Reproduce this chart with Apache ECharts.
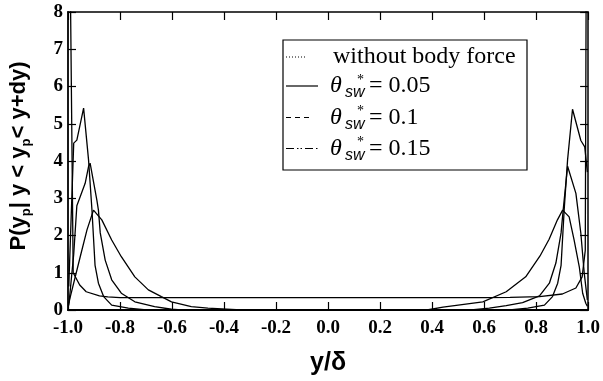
<!DOCTYPE html>
<html><head><meta charset="utf-8">
<script src="https://cdn.jsdelivr.net/npm/echarts@6/dist/echarts.min.js"></script>
<style>html,body{margin:0;padding:0;background:#fff}#c{width:603px;height:381px}</style>
</head><body><div id="c"></div>
<script>
// ---- data ----
const seriesNames = ['without body force', 'theta 0.05', 'theta 0.1', 'theta 0.15'];
const thetaValues = ['0.05', '0.1', '0.15'];

const noForceX = [-0.997, -0.98, -0.955, -0.93, -0.879, -0.847, -0.8, -0.6, -0.4, -0.2, 0, 0.2, 0.4, 0.6, 0.7, 0.813, 0.901, 0.953, 0.977, 0.989, 0.995];
const noForceY = [13, 1.0, 0.67, 0.49, 0.38, 0.35, 0.33, 0.33, 0.33, 0.33, 0.33, 0.33, 0.33, 0.33, 0.34, 0.36, 0.43, 0.59, 0.89, 1.6, 14];

const theta005X = [-0.997, -0.991, -0.953, -0.927, -0.902, -0.870, -0.832, -0.795, -0.743, -0.691, -0.641, -0.602, -0.526, -0.462, -0.335,
                   0.38, 0.442, 0.595, 0.685, 0.76, 0.815, 0.85, 0.882, 0.902, 0.927, 0.946, 0.966, 0.979, 0.991, 0.997];
const theta005Y = [0.18, 0.36, 1.43, 2.15, 2.68, 2.42, 1.88, 1.43, 0.89, 0.54, 0.36, 0.22, 0.09, 0.05, 0,
                   0, 0.08, 0.22, 0.49, 0.89, 1.45, 1.9, 2.42, 2.68, 2.5, 1.88, 1.16, 0.45, 0.18, 0.1];

const theta01X = [-0.997, -0.978, -0.966, -0.934, -0.921, -0.915, -0.889, -0.883, -0.876, -0.857, -0.832, -0.795, -0.743, -0.667, -0.602, -0.564,
                  0.55, 0.62, 0.685, 0.748, 0.813, 0.851, 0.876, 0.896, 0.904, 0.921, 0.953, 0.972, 0.985, 0.997];
const theta01Y = [0.12, 1.5, 2.8, 3.4, 3.85, 3.94, 2.95, 2.68, 2.07, 1.34, 0.81, 0.45, 0.22, 0.09, 0.02, 0,
                  0, 0.05, 0.12, 0.2, 0.38, 0.72, 1.26, 2.07, 2.68, 3.86, 3.13, 2.06, 0.99, 0.27];

const theta015X = [-0.997, -0.978, -0.966, -0.940, -0.921, -0.908, -0.896, -0.883, -0.863, -0.832, -0.768, -0.698,
                   0.698, 0.768, 0.832, 0.863, 0.883, 0.896, 0.908, 0.921, 0.940, 0.972, 0.987, 0.997];
const theta015Y = [0.63, 4.48, 4.56, 5.42, 4.03, 2.7, 1.2, 0.72, 0.36, 0.13, 0.05, 0,
                   0, 0.05, 0.13, 0.36, 0.72, 1.2, 2.7, 4.03, 5.39, 4.55, 4.38, 3.7];

const xTickLabels = ['-1.0', '-0.8', '-0.6', '-0.4', '-0.2', '0.0', '0.2', '0.4', '0.6', '0.8', '1.0'];
const yTickLabels = ['0', '1', '2', '3', '4', '5', '6', '7', '8'];

// ---- chart ----
const zip = (xs, ys) => xs.map((x, i) => [x, ys[i]]);
const seriesData = [zip(noForceX, noForceY), zip(theta005X, theta005Y), zip(theta01X, theta01Y), zip(theta015X, theta015Y)];

const chart = echarts.init(document.getElementById('c'), null, {renderer: 'canvas'});

// legend drawn as graphic elements (box, sample lines, texts)
const legendRows = [57, 86, 117.5, 148.5];
const legendDash = [[1, 2], null, [5, 4], [8, 3, 1.5, 2, 1.5, 3]];
const legendLineEnd = [307, 318, 313, 318];
const legendGraphic = [{
  type: 'rect', shape: {x: 283, y: 40, width: 244, height: 130},
  style: {fill: '#fff', stroke: '#000', lineWidth: 1.2}, z: 100
}];
legendRows.forEach((y, i) => {
  legendGraphic.push({
    type: 'line', shape: {x1: 286, y1: y, x2: legendLineEnd[i], y2: y},
    style: {stroke: '#000', lineWidth: 1.2, lineDash: legendDash[i]}, z: 101
  });
});
legendGraphic.push({
  type: 'text', x: 333, y: legendRows[0], z: 101,
  style: {text: seriesNames[0], fill: '#000', font: '24px "Liberation Serif"', verticalAlign: 'middle'}
});
thetaValues.forEach((v, k) => {
  const y = legendRows[k + 1];
  legendGraphic.push(
    {type: 'text', x: 330, y: y, z: 101, style: {text: 'θ', fill: '#000', font: 'italic 24px "Liberation Serif"', verticalAlign: 'middle'}},
    {type: 'text', x: 345, y: y + 7, z: 101, style: {text: 'sw', fill: '#000', font: 'italic 16px "Liberation Sans"', verticalAlign: 'middle'}},
    {type: 'text', x: 357, y: y - 6, z: 101, style: {text: '*', fill: '#000', font: '14px "Liberation Serif"', verticalAlign: 'middle'}},
    {type: 'text', x: 369, y: y, z: 101, style: {text: '= ' + v, fill: '#000', font: '24px "Liberation Serif"', verticalAlign: 'middle'}}
  );
});

chart.setOption({
  animation: false,
  backgroundColor: '#fff',
  grid: {left: 66, right: 14, top: 12, bottom: 71, containLabel: false},
  xAxis: [{
    type: 'value', min: -1, max: 1, interval: 0.2, position: 'bottom',
    axisLine: {onZero: false, lineStyle: {color: '#000', width: 2}},
    axisTick: {inside: true, length: 8, lineStyle: {color: '#000', width: 1.2}},
    splitLine: {show: false},
    axisLabel: {margin: 9, showMinLabel: true, showMaxLabel: true,
      fontFamily: 'Liberation Serif', fontWeight: 'bold', fontSize: 19, color: '#000',
      formatter: v => xTickLabels[Math.round((v + 1) / 0.2)]},
    name: 'y/δ', nameLocation: 'middle', nameGap: 41,
    nameTextStyle: {fontFamily: 'Liberation Sans', fontWeight: 'bold', fontSize: 25, color: '#000'}
  }, {
    type: 'value', min: -1, max: 1, interval: 0.2, position: 'top',
    axisLine: {onZero: false, lineStyle: {color: '#000', width: 1.5}},
    axisTick: {show: true, inside: true, length: 8, lineStyle: {color: '#000', width: 1.2}},
    axisLabel: {show: false}, splitLine: {show: false}
  }],
  yAxis: [{
    type: 'value', min: 0, max: 8, interval: 1, position: 'left',
    axisLine: {onZero: false, lineStyle: {color: '#000', width: 1.8}},
    axisTick: {inside: true, length: 8, lineStyle: {color: '#000', width: 1.2}},
    splitLine: {show: false},
    axisLabel: {margin: 5, fontFamily: 'Liberation Serif', fontWeight: 'bold', fontSize: 19, color: '#000',
      formatter: v => yTickLabels[Math.round(v)]},
    name: '{a|P(y}{s|p}{a|| y < y}{s|p}{a|< y+dy)}', nameLocation: 'middle', nameGap: 35,
    nameTextStyle: {
      fontFamily: 'Liberation Sans', fontWeight: 'bold', fontSize: 22, color: '#000',
      padding: [0, 0, 0, 10],
      rich: {
        a: {fontFamily: 'Liberation Sans', fontWeight: 'bold', fontSize: 22, lineHeight: 28, color: '#000'},
        s: {fontFamily: 'Liberation Sans', fontWeight: 'bold', fontSize: 13, lineHeight: 14, verticalAlign: 'bottom', color: '#000'}
      }
    }
  }, {
    type: 'value', min: 0, max: 8, interval: 1, position: 'right',
    axisLine: {onZero: false, lineStyle: {color: '#000', width: 1.5}},
    axisTick: {show: true, inside: true, length: 8, lineStyle: {color: '#000', width: 1.2}},
    axisLabel: {show: false}, splitLine: {show: false}
  }],
  graphic: legendGraphic,
  series: seriesNames.map((n, i) => ({
    name: n, type: 'line', xAxisIndex: 0, yAxisIndex: 0,
    data: seriesData[i], symbol: 'none', showSymbol: false, clip: true,
    lineStyle: {color: '#000', width: 1.3, type: 'solid'},
    itemStyle: {color: '#000'},
    emphasis: {disabled: true}
  }))
});
</script></body></html>
